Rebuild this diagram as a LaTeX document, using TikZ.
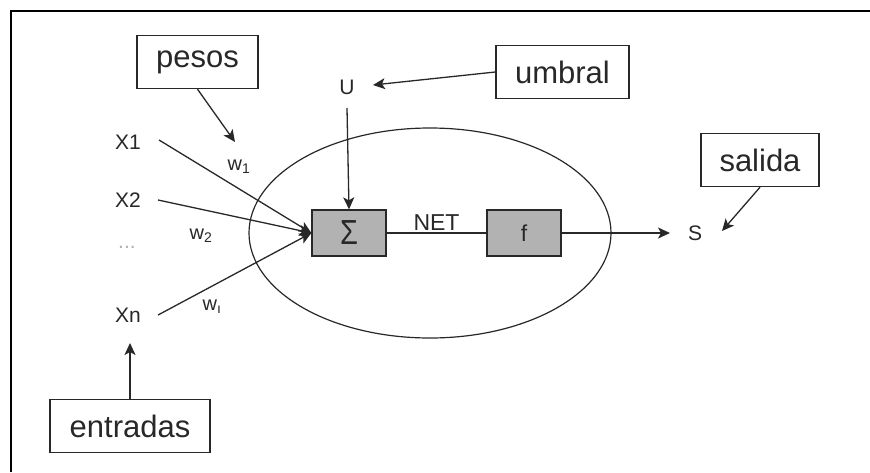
\documentclass[tikz,border=0pt]{standalone}
\usepackage{fontspec}
\setmainfont{Liberation Sans}
\usetikzlibrary{arrows.meta,shapes.geometric}
\definecolor{boxgray}{RGB}{178,178,178}
\definecolor{ink}{RGB}{40,40,40}
\begin{document}
\begin{tikzpicture}[x=1pt,y=-1pt,
  lbl/.style={draw=ink, line width=1.4pt, minimum height=53pt, inner sep=0pt,
    font=\fontsize{31}{31}\selectfont, text=ink},
  blk/.style={draw=ink, fill=boxgray, line width=1.3pt, minimum width=74pt,
    minimum height=46pt, inner sep=0pt, font=\fontsize{23}{23}\selectfont, text=ink},
  var/.style={font=\fontsize{21}{21}\selectfont, inner sep=2pt, text=ink},
  wl/.style={font=\fontsize{20}{20}\selectfont, inner sep=0pt, text=ink},
  conn/.style={draw=ink, line width=1.3pt, -{Stealth[length=12pt,width=11pt,inset=3pt]}},
  plain/.style={draw=ink, line width=1.3pt}
]
\useasboundingbox (0,0) rectangle (870,472);
\fill[white] (0,0) rectangle (870,472);
% frame (top and left edges only)
\draw[line width=2pt, black] (11,472) -- (11,11) -- (870,11);

% neuron ellipse
\node[ellipse, draw=ink, line width=1.2pt, minimum width=362pt, minimum height=210pt, inner sep=0pt] (neuron) at (430,233) {};

% blocks
\node[blk, font=\fontsize{29}{29}\selectfont] (sig) at (349,233) {\scalebox{1}[1.2]{Σ}};
\node[blk] (f) at (524,233) {f};

% labels in boxes
\node[lbl, minimum width=121pt] (pes) at (197.5,62) {pesos};
\node[lbl, minimum width=133pt] (umb) at (562.5,72) {umbral};
\node[lbl, minimum width=118pt] (sal) at (760,160) {salida};
\node[lbl, minimum width=160pt] (ent) at (130,426) {entradas};

% inputs
\node[var] (x1) at (128,142) {X1};
\node[var] (x2) at (128,200) {X2};
\node[var, text=gray!60, font=\fontsize{21}{21}\selectfont] (dots) at (127,247) {...};
\node[var] (xn) at (128,315) {Xn};

\node[var] (u) at (347,87) {U};
\node[var] (s) at (695,233) {S};

% weights
\node[wl] (w1) at (239,167) {w\textsubscript{1}};
\node[wl] (w2) at (201,236) {w\textsubscript{2}};
\node[wl] (wn) at (212,307) {w\textsubscript{\i}};

% connectors
\draw[conn] ([shift={(16,-2)}]x1.east) -- (sig.west);
\draw[conn] ([shift={(15,0)}]x2.east) -- (sig.west);
\draw[conn] ([shift={(15,0)}]xn.east) -- (sig.west);
\draw[conn] ([shift={(0,21)}]u.center) -- (sig.north);
\draw[plain] (sig.east) -- node[above, inner sep=2pt, font=\fontsize{23}{23}\selectfont, text=ink] (net) {NET} (f.west);
\draw[conn] (f.east) -- ([shift={(-25,0)}]s.center);

\draw[conn] (umb.west) -- ([shift={(26,-2)}]u.center);
\draw[conn] (pes.south) -- ([shift={(-4,-25)}]w1.center);
\draw[conn] (sal.south) -- ([shift={(27,-2)}]s.center);
\draw[conn] (ent.north) -- ([shift={(2,28)}]xn.center);
\end{tikzpicture}
\end{document}
